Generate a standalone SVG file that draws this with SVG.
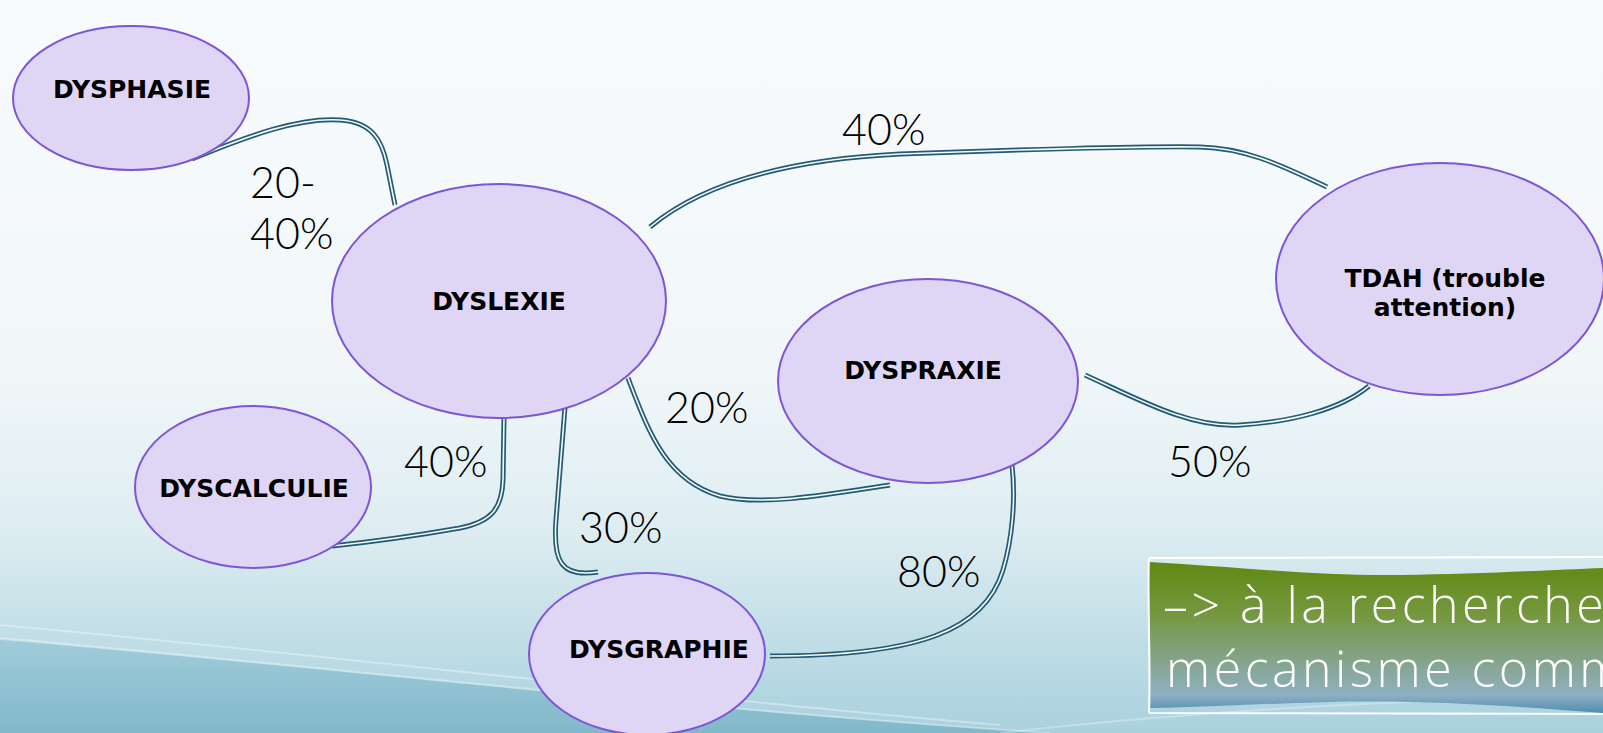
<svg xmlns="http://www.w3.org/2000/svg" width="1603" height="733" viewBox="0 0 1603 733">
<defs>
<linearGradient id="bg" x1="0" y1="0" x2="0" y2="1">
<stop offset="0" stop-color="#f8fbfd"/>
<stop offset="0.5" stop-color="#f1f7f9"/>
<stop offset="0.72" stop-color="#deedf2"/>
<stop offset="0.86" stop-color="#c3dfe7"/>
<stop offset="1" stop-color="#a9d1dd"/>
</linearGradient>
<linearGradient id="deep" x1="0" y1="0" x2="0" y2="1">
<stop offset="0" stop-color="#9ccad8"/>
<stop offset="1" stop-color="#7db6c8"/>
</linearGradient>
<linearGradient id="box" x1="0" y1="0" x2="0" y2="1">
<stop offset="0" stop-color="#5f8912"/>
<stop offset="0.35" stop-color="#75983f"/>
<stop offset="0.65" stop-color="#84a48a"/>
<stop offset="0.88" stop-color="#8fb0c2"/>
<stop offset="1" stop-color="#4f8db0"/>
</linearGradient>
<style>
.node{fill:#dfd5f4;stroke:#7d55d8;stroke-width:2}
.lbl{font-family:"DejaVu Sans",sans-serif;font-weight:bold;font-size:25px;fill:#000;text-anchor:middle}
.pct{font-family:Lato,"Open Sans",sans-serif;font-weight:300;font-size:43px;fill:#000}
.c-out{fill:none;stroke:#225b73;stroke-width:5;stroke-linecap:butt}
.c-in{fill:none;stroke:#f7fbfc;stroke-width:1.6;stroke-linecap:butt}
.box-t{font-family:"Open Sans",sans-serif;font-weight:300;font-size:50px;letter-spacing:3.5px;fill:#ffffff}
</style>
</defs>
<rect x="0" y="0" width="1603" height="733" fill="url(#bg)"/>
<path d="M0,640 C300,665 700,712 1050,733 L0,733 Z" fill="url(#deep)" opacity="0.9"/>
<path d="M0,625 C300,652 700,700 1000,725" fill="none" stroke="#ffffff" stroke-width="2" opacity="0.35"/>
<path d="M0,638 C300,664 700,710 1050,733" fill="none" stroke="#ffffff" stroke-width="2" opacity="0.3"/>
<path d="M1000,733 C1200,710 1400,700 1603,695" fill="none" stroke="#ffffff" stroke-width="2" opacity="0.3"/>

<g id="connectors">
<g id="c1"><path class="c-out" d="M192,159 C250,135 300,117 340,120 C372,122 382,140 387,165 L395,205"/><path class="c-in" d="M192,159 C250,135 300,117 340,120 C372,122 382,140 387,165 L395,205"/></g>
<g id="c2"><path class="c-out" d="M650,227 C700,185 780,160 900,154 C1000,150 1150,146 1200,147 C1250,148 1290,170 1327,187"/><path class="c-in" d="M650,227 C700,185 780,160 900,154 C1000,150 1150,146 1200,147 C1250,148 1290,170 1327,187"/></g>
<g id="c3"><path class="c-out" d="M628,378 C648,430 665,480 720,496 C760,506 820,496 890,485"/><path class="c-in" d="M628,378 C648,430 665,480 720,496 C760,506 820,496 890,485"/></g>
<g id="c4"><path class="c-out" d="M504,418 L503,480 C502,510 490,522 460,528 C420,535 370,542 332,546"/><path class="c-in" d="M504,418 L503,480 C502,510 490,522 460,528 C420,535 370,542 332,546"/></g>
<g id="c5"><path class="c-out" d="M565,407 L556,520 C553,560 560,578 598,572"/><path class="c-in" d="M565,407 L556,520 C553,560 560,578 598,572"/></g>
<g id="c6"><path class="c-out" d="M1012,465 C1016,500 1012,540 1003,570 C985,630 920,656 770,656"/><path class="c-in" d="M1012,465 C1016,500 1012,540 1003,570 C985,630 920,656 770,656"/></g>
<g id="c7"><path class="c-out" d="M1085,375 C1140,400 1190,428 1240,425 C1290,422 1340,410 1369,386"/><path class="c-in" d="M1085,375 C1140,400 1190,428 1240,425 C1290,422 1340,410 1369,386"/></g>
</g>

<g id="n-dysphasie"><ellipse class="node" cx="131" cy="98" rx="118" ry="72"/><text class="lbl" x="132" y="98">DYSPHASIE</text></g>
<g id="n-dyslexie"><ellipse class="node" cx="499" cy="301" rx="167" ry="117"/><text class="lbl" x="499" y="310">DYSLEXIE</text></g>
<g id="n-dyspraxie"><ellipse class="node" cx="928" cy="381" rx="150" ry="102"/><text class="lbl" x="923" y="379">DYSPRAXIE</text></g>
<g id="n-tdah"><ellipse class="node" cx="1440" cy="279" rx="164" ry="116"/><text class="lbl" x="1445" y="287">TDAH (trouble</text><text class="lbl" x="1445" y="316">attention)</text></g>
<g id="n-dyscalculie"><ellipse class="node" cx="253" cy="487" rx="118" ry="81"/><text class="lbl" x="254" y="497">DYSCALCULIE</text></g>
<g id="n-dysgraphie"><ellipse class="node" cx="647" cy="654" rx="118" ry="81"/><text class="lbl" x="659" y="658">DYSGRAPHIE</text></g>

<g id="labels">
<text class="pct" x="842" y="145">40%</text>
<text class="pct" x="250" y="198">20-</text>
<text class="pct" x="250" y="249">40%</text>
<text class="pct" x="665" y="423">20%</text>
<text class="pct" x="404" y="477">40%</text>
<text class="pct" x="579" y="543">30%</text>
<text class="pct" x="897" y="587">80%</text>
<text class="pct" x="1168" y="477">50%</text>
</g>

<g id="note">
<path d="M1149,562 C1250,568 1320,576 1400,575 C1480,574 1550,570 1603,568 L1603,713 C1500,705 1420,700 1330,702 C1250,704 1190,708 1150,708 Z" fill="url(#box)"/>
<path d="M1149,558 L1603,557 M1149,713 L1603,714 M1149,558 C1147,600 1151,660 1149,713" fill="none" stroke="#ffffff" stroke-width="2"/>
<text class="box-t" x="1163" y="623">–&gt; à la recherche</text>
<text class="box-t" x="1166" y="687">mécanisme commun</text>
</g>
</svg>
